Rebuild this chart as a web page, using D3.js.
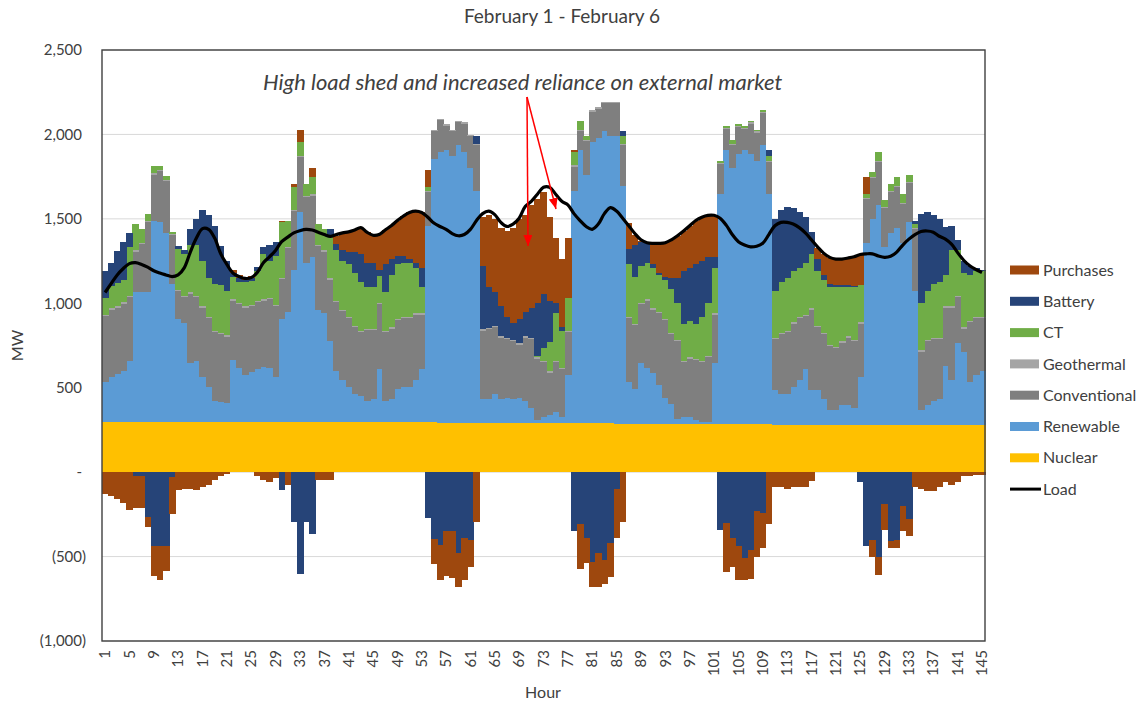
<!DOCTYPE html>
<html>
<head>
<meta charset="utf-8">
<script src="https://cdn.jsdelivr.net/npm/d3@7"></script>
<style>
  body { margin: 0; background: #fff; }
  text { font-family: Lato, "Liberation Sans", sans-serif; fill: #404040; }
</style>
</head>
<body>
<div id="chart"></div>
<script>
// hourly dispatch, MW
const hours = d3.range(1, 146);
const tickHours = [1, 5, 9, 13, 17, 21, 25, 29, 33, 37, 41, 45, 49, 53, 57, 61, 65, 69, 73, 77,
    81, 85, 89, 93, 97, 101, 105, 109, 113, 117, 121, 125, 129, 133, 137, 141, 145];
const yTicks = [2500, 2000, 1500, 1000, 500, 0, -500, -1000];

const nuclear = [
    297, 297, 297, 297, 297, 297, 297, 297, 297, 297,
    297, 297, 297, 297, 297, 297, 297, 297, 297, 297,
    297, 297, 297, 297, 297, 297, 297, 297, 297, 297,
    297, 297, 297, 297, 297, 297, 297, 297, 297, 297,
    297, 297, 297, 297, 297, 297, 297, 297, 297, 297,
    297, 297, 297, 297, 297, 292, 292, 292, 292, 292,
    292, 292, 292, 292, 292, 292, 292, 292, 292, 292,
    292, 292, 292, 292, 292, 292, 292, 292, 292, 292,
    292, 292, 292, 292, 288, 288, 288, 288, 288, 288,
    288, 288, 288, 288, 288, 288, 288, 288, 288, 288,
    288, 288, 288, 288, 288, 288, 288, 288, 288, 288,
    282, 282, 282, 282, 282, 282, 282, 282, 282, 282,
    282, 282, 282, 282, 282, 282, 282, 282, 282, 282,
    282, 282, 282, 282, 282, 282, 282, 282, 282, 282,
    282, 282, 282, 282, 282];
const renewable = [
    238, 269, 284, 301, 363, 772, 772, 772, 1193, 1183,
    1120, 819, 612, 587, 352, 363, 269, 207, 124, 120,
    110, 369, 321, 280, 294, 311, 325, 321, 269, 612,
    653, 902, 1245, 944, 975, 664, 643, 477, 301, 249,
    207, 166, 155, 124, 135, 311, 124, 135, 197, 207,
    207, 249, 311, 1162, 1556, 1602, 1613, 1582, 1644, 1602,
    1509, 1374, 140, 140, 171, 140, 150, 140, 150, 129,
    88, 15, 36, 46, 67, 36, 285, 1374, 1613, 1468,
    1665, 1686, 1727, 1701, 1705, 1409, 247, 206, 357, 330,
    299, 227, 154, 113, 29, 40, 40, 19, 9, 9,
    361, 1357, 1617, 1513, 1596, 1617, 1596, 1554, 1648, 1357,
    202, 181, 181, 222, 264, 326, 202, 202, 150, 87,
    87, 118, 118, 98, 284, 1073, 1218, 1301, 1052, 1135,
    1166, 1073, 1197, 793, 87, 118, 139, 150, 347, 264,
    481, 429, 253, 295, 316];
const conventional = [
    387, 397, 392, 400, 376, 236, 282, 413, 272, 303,
    308, 289, 163, 152, 407, 376, 407, 407, 407, 401,
    396, 349, 376, 396, 393, 397, 393, 407, 418, 233,
    376, 345, 324, 386, 365, 376, 365, 365, 407, 407,
    407, 396, 376, 418, 407, 386, 407, 417, 407, 407,
    407, 386, 324, 199, 168, 190, 147, 147, 137, 169,
    189, 272, 405, 415, 396, 365, 345, 344, 313, 376,
    407, 365, 324, 252, 293, 282, 250, 142, 116, 199,
    178, 174, 168, 194, 194, 241, 376, 375, 349, 397,
    376, 427, 459, 417, 459, 324, 345, 355, 355, 385,
    283, 179, 127, 137, 158, 127, 179, 169, 189, 190,
    304, 355, 365, 376, 365, 314, 479, 375, 386, 376,
    366, 366, 397, 396, 314, 261, 241, 252, 231, 241,
    241, 231, 231, 365, 345, 376, 366, 355, 344, 427,
    273, 138, 355, 334, 313];
const geothermal = [
    8, 8, 8, 8, 8, 8, 8, 8, 8, 8, 8, 8, 8, 8, 8, 8, 8, 8, 8, 8,
    8, 8, 8, 8, 8, 8, 8, 8, 8, 8, 8, 8, 8, 8, 8, 8, 8, 8, 8, 8,
    8, 8, 8, 8, 8, 8, 8, 8, 8, 8, 8, 8, 8, 8, 8, 8, 8, 8, 8, 8,
    8, 8, 8, 8, 8, 8, 8, 8, 8, 8, 8, 8, 8, 8, 8, 8, 8, 8, 8, 8,
    8, 8, 8, 8, 8, 8, 8, 8, 8, 8, 8, 8, 8, 8, 8, 8, 8, 8, 8, 8,
    8, 8, 8, 8, 8, 8, 8, 8, 8, 8, 8, 8, 8, 8, 8, 8, 8, 8, 8, 8,
    8, 8, 8, 8, 8, 8, 8, 8, 8, 8, 8, 8, 8, 8, 8, 8, 8, 8, 8, 8,
    8, 8, 8, 8, 8];
const ct = [
    103, 129, 139, 134, 290, 156, 83, 41, 41, 20,
    20, 7, 240, 246, 281, 301, 270, 228, 280, 280,
    264, 135, 125, 146, 138, 177, 270, 218, 290, 329,
    156, 135, 83, 73, 104, 124, 125, 260, 300, 290,
    311, 312, 291, 249, 249, 157, 228, 311, 321, 322,
    322, 270, 156, 21, 0, 0, 0, 0, 0, 0,
    0, 0, 0, 0, 0, 0, 0, 0, 0, 0,
    0, 10, 75, 170, 282, 220, 198, 78, 52, 21,
    0, 0, 0, 0, 0, 42, 311, 281, 218, 218,
    239, 218, 228, 259, 218, 218, 217, 208, 259, 312,
    270, 11, 10, 21, 10, 10, 10, 10, 10, 30,
    279, 301, 311, 301, 291, 311, 322, 322, 311, 343,
    353, 322, 291, 312, 218, 21, 31, 51, 41, 42,
    52, 51, 42, 21, 280, 291, 321, 332, 187, 332,
    269, 322, 270, 270, 270];
// negative = charging
const battery = [
    156, 141, 189, 225, 83, -20, -25, -264, -440, -440,
    -440, -30, 18, 28, 93, 155, 301, 374, 343, 234,
    175, 22, 23, 13, 17, 25, 41, 94, 83, -108,
    0, -295, -606, -295, -367, 0, 0, 33, 37, 62,
    73, 124, 166, 145, 145, 40, 166, 94, 52, 41,
    21, 31, 114, -274, -398, -430, -347, -347, -481, -388,
    -400, 42, 375, 241, 197, 177, 124, 100, 146, 145,
    176, 312, 319, 245, 60, 19, 0, -350, -310, -390,
    -530, -480, -520, -420, -100, 31, 93, 187, 145, 114,
    20, 11, 21, 62, 145, 311, 312, 352, 332, 274,
    66, -340, -300, -390, -440, -510, -460, -230, -240, 32,
    425, 425, 426, 373, 332, 269, 129, 73, 31, 20,
    10, 10, 10, 4, -60, -440, -400, -500, -190, -410,
    -400, -200, -280, 21, 529, 467, 405, 373, 281, 146,
    63, 72, 52, 21, 11];
// negative = sales
const purchases = [
    -129, -139, -160, -181, -226, -192, -187, -58, -176, -197,
    -143, -215, -108, -98, -98, -108, -87, -77, -46, -25,
    -10, 19, 18, 18, 13, -25, -46, -56, -35, 11,
    -77, 21, 72, 0, 52, -46, -46, -46, 50, 97,
    117, 129, 153, 181, 162, 208, 202, 197, 208, 235,
    276, 305, 328, 104, -146, -207, -269, -280, -198, -249,
    -160, -295, 291, 425, 436, 466, 509, 564, 591, 571,
    613, 613, 606, 498, 384, 405, 353, 11, -265, -150,
    -150, -200, -140, -200, -290, -295, 155, 62, 5, 5,
    125, 176, 201, 229, 253, 239, 249, 260, 259, 245,
    245, 0, -290, -170, -200, -130, -170, -270, -210, -305,
    -87, -90, -98, -90, -90, -90, -50, 68, 122, 152,
    156, 156, 162, 176, 183, 100, -100, -110, -150, -40,
    -50, -150, -100, -87, -100, -110, -110, -90, -60, -77,
    -56, -25, -25, -15, -15];
const load = [
    1064, 1116, 1168, 1206, 1235, 1241, 1230, 1214, 1193, 1179,
    1168, 1158, 1168, 1210, 1303, 1386, 1442, 1438, 1386, 1293,
    1230, 1179, 1158, 1147, 1152, 1183, 1240, 1275, 1313, 1365,
    1392, 1417, 1430, 1438, 1434, 1421, 1407, 1396, 1407, 1417,
    1423, 1434, 1448, 1421, 1403, 1407, 1434, 1459, 1490, 1517,
    1538, 1546, 1538, 1510, 1475, 1455, 1438, 1413, 1400, 1407,
    1438, 1490, 1531, 1546, 1525, 1479, 1455, 1469, 1504, 1573,
    1604, 1646, 1687, 1687, 1646, 1604, 1583, 1531, 1490, 1455,
    1438, 1469, 1531, 1567, 1546, 1504, 1459, 1413, 1376, 1359,
    1355, 1355, 1359, 1376, 1400, 1428, 1459, 1490, 1510, 1521,
    1521, 1504, 1463, 1407, 1365, 1345, 1334, 1338, 1355, 1407,
    1459, 1479, 1479, 1469, 1448, 1417, 1376, 1334, 1297, 1272,
    1262, 1262, 1268, 1276, 1289, 1293, 1293, 1280, 1272, 1278,
    1303, 1345, 1380, 1407, 1425, 1428, 1421, 1397, 1380, 1350,
    1300, 1255, 1222, 1200, 1182];

const keys = ['Nuclear', 'Renewable', 'Conventional', 'Geothermal', 'CT', 'Battery', 'Purchases'];
const colors = {
    Nuclear: '#FFC000', Renewable: '#5B9BD5', Conventional: '#7F7F7F', Geothermal: '#A5A5A5',
    CT: '#70AD47', Battery: '#264478', Purchases: '#9E480E'
};

function makeChart() {
    const width = 1145,
        height = 709,
        left = 102, right = 985, top = 50, bottom = 641;

    const rows = hours.map((h, i) => ({
        hour: h, Nuclear: nuclear[i], Renewable: renewable[i], Conventional: conventional[i],
        Geothermal: geothermal[i], CT: ct[i], Battery: battery[i], Purchases: purchases[i]
    }));

    let svg = d3.select('#chart').append('svg')
        .attr('width', width)
        .attr('height', height);

    let x = d3.scaleBand().domain(hours).range([left, right]).padding(0);
    let y = d3.scaleLinear().domain([-1000, 2500]).range([bottom, top]);

    // gridlines
    svg.append('g').selectAll('line')
        .data(yTicks)
        .enter().append('line')
        .attr('x1', left).attr('x2', right)
        .attr('y1', d => y(d)).attr('y2', d => y(d))
        .attr('stroke', '#D9D9D9')
        .attr('stroke-width', 1);

    let series = d3.stack().keys(keys).offset(d3.stackOffsetDiverging)(rows);

    svg.append('g')
        .attr('shape-rendering', 'crispEdges')
        .selectAll('g')
        .data(series)
        .enter().append('g')
        .attr('fill', d => colors[d.key])
        .selectAll('rect')
        .data(d => d)
        .enter().append('rect')
        .attr('x', d => x(d.data.hour))
        .attr('width', x.bandwidth() + 0.6)
        .attr('y', d => y(d[1]))
        .attr('height', d => Math.max(0, y(d[0]) - y(d[1])));

    // load line
    let line = d3.line()
        .x((d, i) => x(hours[i]) + x.bandwidth() / 2)
        .y(d => y(d))
        .curve(d3.curveCatmullRom.alpha(0.5));

    svg.append('path')
        .datum(load)
        .attr('d', line)
        .attr('fill', 'none')
        .attr('stroke', '#000')
        .attr('stroke-width', 3.2);

    // plot frame
    svg.append('rect')
        .attr('x', left).attr('y', top)
        .attr('width', right - left).attr('height', bottom - top)
        .attr('fill', 'none')
        .attr('stroke', '#404040')
        .attr('stroke-width', 1.4);

    // y axis
    const fmt = d3.format(',');
    let yAxis = svg.append('g')
        .attr('transform', 'translate(' + left + ',0)')
        .call(d3.axisLeft(y).tickValues(yTicks).tickSize(0).tickPadding(20)
            .tickFormat(d => d === 0 ? '-' : d < 0 ? '(' + fmt(-d) + ')' : fmt(d)));
    yAxis.select('.domain').remove();
    yAxis.selectAll('text')
        .style('font-size', '15px')
        .style('font-family', 'Lato, sans-serif')
        .attr('fill', '#404040')
        .attr('dx', d => d < 0 ? 4 : 0);

    // x axis
    let xAxis = svg.append('g')
        .attr('transform', 'translate(0,' + bottom + ')')
        .call(d3.axisBottom(x).tickValues(tickHours).tickSize(0));
    xAxis.select('.domain').remove();
    xAxis.selectAll('text')
        .style('font-size', '15px')
        .style('font-family', 'Lato, sans-serif')
        .attr('fill', '#404040')
        .attr('transform', 'rotate(-90)')
        .attr('x', -9)
        .attr('y', 0)
        .attr('dy', '0.35em')
        .style('text-anchor', 'end');

    // titles
    svg.append('text')
        .attr('x', 562).attr('y', 23)
        .attr('text-anchor', 'middle')
        .style('font-size', '19px')
        .text('February 1 - February 6');

    svg.append('text')
        .attr('x', 543).attr('y', 698)
        .attr('text-anchor', 'middle')
        .style('font-size', '16px')
        .text('Hour');

    svg.append('text')
        .attr('transform', 'translate(23,' + (top + bottom) / 2 + ') rotate(-90)')
        .attr('text-anchor', 'middle')
        .style('font-size', '16px')
        .text('MW');

    // annotation
    svg.append('defs').append('marker')
        .attr('id', 'head')
        .attr('markerUnits', 'userSpaceOnUse')
        .attr('markerWidth', 11).attr('markerHeight', 9)
        .attr('refX', 11).attr('refY', 4.5)
        .attr('orient', 'auto')
        .append('path')
        .attr('d', 'M0,0 L11,4.5 L0,9 Z')
        .attr('fill', '#FF0000');

    svg.append('text')
        .attr('x', 263).attr('y', 90)
        .style('font-size', '22px')
        .style('font-style', 'italic')
        .attr('fill', '#000')
        .text('High load shed and increased reliance on external market');

    const arrows = [[527, 97, 528, 246], [527, 97, 556, 209]];
    svg.append('g').selectAll('line')
        .data(arrows)
        .enter().append('line')
        .attr('x1', d => d[0]).attr('y1', d => d[1])
        .attr('x2', d => d[2]).attr('y2', d => d[3])
        .attr('stroke', '#FF0000')
        .attr('stroke-width', 1.5)
        .attr('marker-end', 'url(#head)');

    // legend
    const legendKeys = ['Purchases', 'Battery', 'CT', 'Geothermal', 'Conventional', 'Renewable', 'Nuclear', 'Load'];
    let legend = svg.append('g').selectAll('g')
        .data(legendKeys)
        .enter().append('g')
        .attr('transform', (d, i) => 'translate(1010,' + (270 + i * 31.3) + ')');

    legend.filter(d => d !== 'Load').append('rect')
        .attr('x', 0).attr('y', -4.5)
        .attr('width', 29).attr('height', 9)
        .attr('fill', d => colors[d]);

    legend.filter(d => d === 'Load').append('line')
        .attr('x1', 0).attr('x2', 31)
        .attr('stroke', '#000')
        .attr('stroke-width', 3);

    legend.append('text')
        .attr('x', 33)
        .attr('dy', '0.35em')
        .style('font-size', '16px')
        .text(d => d);
}

makeChart();
</script>
</body>
</html>
